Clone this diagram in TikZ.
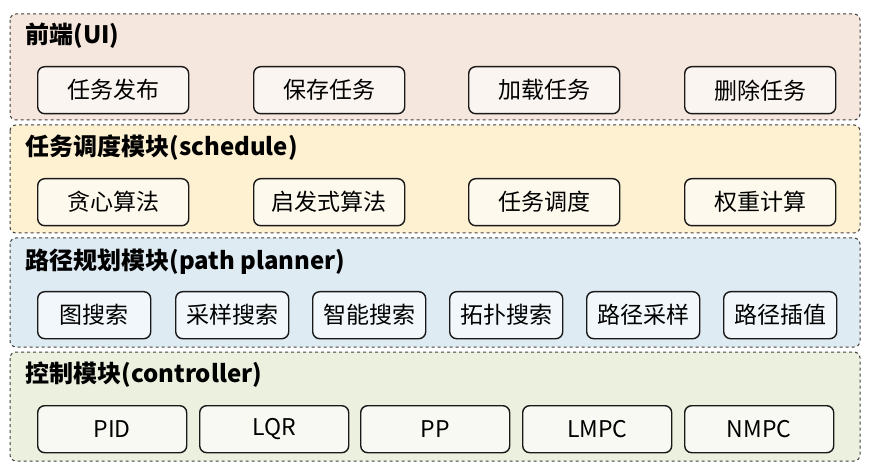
\documentclass[tikz,border=0pt]{standalone}
\usepackage{fontspec}
\setmainfont{Noto Sans CJK SC}
\begin{document}
\begin{tikzpicture}[x=1pt,y=-1pt,
  band/.style={draw=black!75,dashed,rounded corners=6pt,line width=1pt},
  item/.style={draw=black!90,rounded corners=7pt,line width=1.4pt,fill=white,fill opacity=0.6,draw opacity=1,text opacity=1,font=\fontsize{23}{25}\selectfont,minimum height=47pt,anchor=north west,inner sep=0pt},
  ttl/.style={anchor=west,font=\bfseries\fontsize{24}{27}\selectfont}]
\useasboundingbox (0,0) rectangle (870,470);
\definecolor{b1}{HTML}{F5E7DD}\definecolor{b2}{HTML}{FEF1D2}
\definecolor{b3}{HTML}{DEEBF3}\definecolor{b4}{HTML}{EBF0DF}
\path[band,fill=b1] (10,14) rectangle (860,120);
\path[band,fill=b2] (10,125) rectangle (860,233);
\path[band,fill=b3] (10,238) rectangle (860,347);
\path[band,fill=b4] (10,352) rectangle (860,461);
\node[ttl] (t1) at (22,36) {前端(UI)};
\node[ttl] (t2) at (22,148) {任务调度模块(schedule)};
\node[ttl] (t3) at (22,262) {路径规划模块(path planner)};
\node[ttl] (t4) at (22,375) {控制模块(controller)};
\foreach \x/\t [count=\i] in {37/任务发布,253/保存任务,468/加载任务,684/删除任务}
  \node[item,minimum width=151pt] (a\i) at (\x,66) {\t};
\foreach \x/\t [count=\i] in {37/贪心算法,253/启发式算法,468/任务调度,684/权重计算}
  \node[item,minimum width=151pt] (b\i) at (\x,178) {\t};
\foreach \x/\t [count=\i] in {37/图搜索,175/采样搜索,312/智能搜索,449/拓扑搜索,586/路径采样,723/路径插值}
  \node[item,minimum width=113pt] (c\i) at (\x,291) {\t};
\foreach \x/\t [count=\i] in {37/PID,199/LQR,360/PP,522/LMPC,684/NMPC}
  \node[item,minimum width=149pt] (d\i) at (\x,405) {\t};
\end{tikzpicture}
\end{document}
